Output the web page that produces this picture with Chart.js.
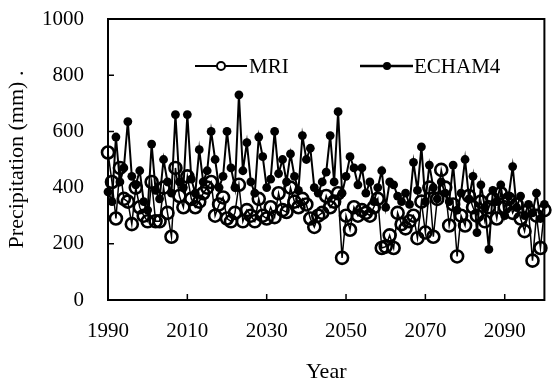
<!doctype html>
<html lang="en">
  <head>
    <meta charset="utf-8">
    <title>Precipitation MRI vs ECHAM4</title>
    <script src="https://cdn.jsdelivr.net/npm/chart.js"></script>
    <style>
      html, body { margin: 0; padding: 0; background: #fff; }
      #wrap { width: 553px; height: 385px; position: relative; }
    </style>
  </head>
  <body>
  <div id="wrap"><canvas id="myChart"></canvas></div>
  <script>
    // annual precipitation (mm)
    const years = [];
    for (let y = 1990; y <= 2100; y++) years.push(y);

    const mri = [
      525, 420, 290, 470, 360, 350, 270, 400, 330, 300,
      280, 420, 280, 280, 400, 310, 225, 470, 370, 330,
      440, 360, 330, 350, 380, 400, 420, 300, 340, 365,
      290, 280, 310, 410, 280, 320, 300, 280, 360, 300,
      290, 330, 295, 380, 320, 313, 400, 350, 330, 360,
      340, 290, 260, 300, 310, 370, 330, 350, 380, 150,
      300, 250, 330, 300, 320, 310, 300, 330, 360, 185,
      190, 230, 185, 310, 270, 255, 280, 300, 220, 350,
      240, 400, 225, 360, 463, 400, 265, 340, 155, 300,
      265, 370, 330, 300, 350, 280, 330, 360, 290, 380,
      330, 360, 310, 340, 290, 245, 320, 140, 300, 185,
      320
    ];

    const echam4 = [
      385, 350, 580, 420, 470, 635, 440, 410, 460, 350,
      320, 555, 390, 360, 500, 420, 380, 660, 420, 400,
      660, 430, 380, 535, 420, 460, 600, 500, 400, 440,
      600, 470, 400, 730, 460, 560, 420, 380, 580, 510,
      400, 430, 600, 450, 500, 420, 520, 440, 390, 585,
      500, 540, 400, 380, 420, 455, 585, 420, 670, 380,
      440, 510, 470, 410, 470, 380, 420, 350, 400, 460,
      330, 420, 410, 370, 350, 380, 340, 490, 390, 545,
      350, 480, 400, 360, 420, 380, 350, 480, 320, 380,
      500, 360, 440, 240, 410, 330, 180, 390, 350, 410,
      300, 370, 475, 330, 370, 300, 340, 310, 380, 290,
      340
    ];

    const xTicks = [1990, 2010, 2030, 2050, 2070, 2090];
    const yTicks = [0, 200, 400, 600, 800, 1000];

    const FONT = "'Liberation Serif', 'Times New Roman', serif";

    // frame, inward tick marks and the legend inside the plot
    const framePlugin = {
      id: 'frame',
      afterDraw: (chart) => {
        const ctx = chart.ctx;
        const {left, right, top, bottom} = chart.chartArea;
        const xs = chart.scales.x, ys = chart.scales.y;
        ctx.save();
        ctx.strokeStyle = '#000';
        ctx.lineWidth = 2;
        ctx.strokeRect(left, top, right - left, bottom - top);
        ctx.lineWidth = 1.5;
        ctx.beginPath();
        xTicks.slice(1).forEach(v => {
          const px = xs.getPixelForValue(v);
          ctx.moveTo(px, bottom); ctx.lineTo(px, bottom - 6);
        });
        yTicks.slice(1, -1).forEach(v => {
          const py = ys.getPixelForValue(v);
          ctx.moveTo(left, py); ctx.lineTo(left + 6, py);
        });
        ctx.stroke();

        // legend
        ctx.font = '21px ' + FONT;
        ctx.fillStyle = '#000';
        ctx.textBaseline = 'middle';
        ctx.textAlign = 'left';
        const ly = 66;
        ctx.lineWidth = 2;
        ctx.beginPath(); ctx.moveTo(195, ly); ctx.lineTo(247, ly); ctx.stroke();
        ctx.fillStyle = '#fff';
        ctx.beginPath(); ctx.arc(221, ly, 4, 0, Math.PI * 2); ctx.fill(); ctx.stroke();
        ctx.fillStyle = '#000';
        ctx.fillText('MRI', 249, ly + 1);
        ctx.lineWidth = 2.5;
        ctx.beginPath(); ctx.moveTo(360, ly); ctx.lineTo(413, ly); ctx.stroke();
        ctx.beginPath(); ctx.arc(387, ly, 4, 0, Math.PI * 2); ctx.fill();
        ctx.fillText('ECHAM4', 414, ly + 1);
        ctx.restore();
      }
    };

    const ctx = document.getElementById('myChart');
    const myChart = new Chart(ctx, {
        type: 'line',
        data: {
            labels: years,
            datasets: [{
                label: 'MRI',
                data: mri,
                borderColor: '#000',
                borderWidth: 1.5,
                pointStyle: 'circle',
                pointRadius: 6,
                pointBorderWidth: 2.6,
                pointBorderColor: '#000',
                pointBackgroundColor: 'rgba(255,255,255,0)',
                tension: 0,
                clip: false
            }, {
                label: 'ECHAM4',
                data: echam4,
                borderColor: '#000',
                borderWidth: 2,
                pointStyle: 'circle',
                pointRadius: 4.4,
                pointBorderWidth: 0,
                pointBackgroundColor: '#000',
                tension: 0,
                clip: false
            }]
        },
        plugins: [framePlugin],
        options: {
            responsive: true,
            maintainAspectRatio: false,
            animation: false,
            layout: { padding: { top: 19, right: 1, left: 0, bottom: 0 } },
            plugins: {
                legend: { display: false },
                tooltip: { enabled: false }
            },
            scales: {
                x: {
                    type: 'linear',
                    min: 1990,
                    max: 2100,
                    grid: { display: false, drawTicks: false },
                    border: { display: false },
                    afterBuildTicks: (scale) => {
                        scale.ticks = xTicks.map(v => ({ value: v }));
                    },
                    afterFit: (scale) => {
                        scale.height = 85;
                        scale.paddingLeft = 0;
                        scale.paddingRight = 0;
                    },
                    ticks: {
                        color: '#000',
                        font: { family: FONT, size: 21 },
                        padding: 19,
                        maxRotation: 0,
                        autoSkip: false,
                        callback: (v) => String(v)
                    },
                    title: {
                        display: true,
                        text: 'Year',
                        color: '#000',
                        font: { family: FONT, size: 22 },
                        padding: { top: 0, bottom: 0 }
                    }
                },
                y: {
                    min: 0,
                    max: 1000,
                    grid: { display: false, drawTicks: false },
                    border: { display: false },
                    afterBuildTicks: (scale) => {
                        scale.ticks = yTicks.map(v => ({ value: v }));
                    },
                    afterFit: (scale) => {
                        scale.width = 108;
                        scale.paddingTop = 0;
                        scale.paddingBottom = 0;
                    },
                    ticks: {
                        color: '#000',
                        font: { family: FONT, size: 21 },
                        padding: 24,
                        callback: (v) => String(v)
                    },
                    title: {
                        display: true,
                        text: 'Precipitation (mm) .',
                        color: '#000',
                        font: { family: FONT, size: 22 },
                        padding: { top: 4, bottom: 0 }
                    }
                }
            }
        }
    });
  </script>
  </body>
</html>
